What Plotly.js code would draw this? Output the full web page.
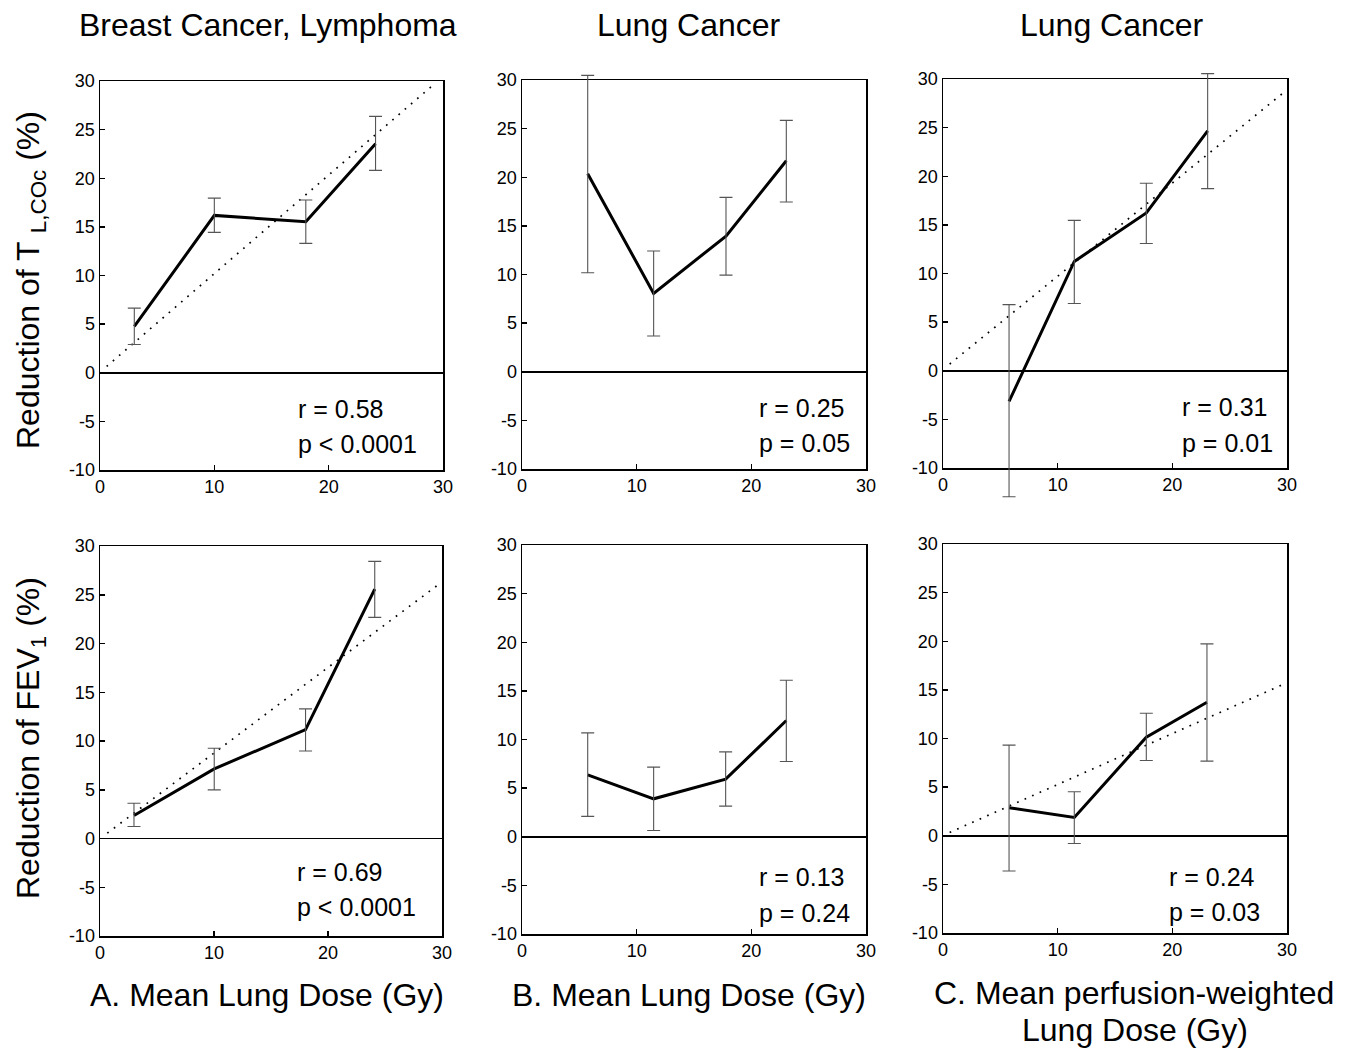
<!DOCTYPE html>
<html>
<head>
<meta charset="utf-8">
<script src="https://cdn.plot.ly/plotly-3.0.1.min.js"></script>
<style>html,body{margin:0;padding:0;background:#fff;}#chart{width:1350px;height:1051px;}</style>
</head>
<body>
<div id="chart"></div>
<script>
// ---- Data ----
// Top row: reduction of T L,COc (%)
const doseA_T = [3.0, 10.0, 18.0, 24.1];
const redA_T = [4.77, 16.18, 15.53, 23.55];
const errUpA_T = [1.88, 1.78, 2.23, 2.81];
const errDnA_T = [1.86, 1.75, 2.23, 2.74];
const fitXA_T = [0.58, 29.1];
const fitYA_T = [0.65, 29.55];

const doseB_T = [5.73, 11.48, 17.79, 23.05];
const redB_T = [20.36, 8.06, 13.95, 21.7];
const errUpB_T = [10.12, 4.35, 3.98, 4.15];
const errDnB_T = [10.18, 4.39, 4.01, 4.25];

const doseC_T = [5.76, 11.45, 17.73, 23.08];
const redC_T = [-3.16, 11.24, 16.22, 24.67];
const errUpC_T = [9.96, 4.22, 3.06, 5.88];
const errDnC_T = [9.79, 4.33, 3.13, 5.94];
const fitXC_T = [0.58, 29.7];
const fitYC_T = [0.69, 28.6];

// Bottom row: reduction of FEV1 (%)
const doseA_F = [2.98, 10.02, 18.03, 24.1];
const redA_F = [2.36, 7.14, 11.17, 25.58];
const errUpA_F = [1.26, 2.12, 2.12, 2.84];
const errDnA_F = [1.13, 2.15, 2.19, 2.9];
const fitXA_F = [0.64, 29.94];
const fitYA_F = [0.55, 26.27];

const doseB_F = [5.73, 11.48, 17.76, 23.05];
const redB_F = [6.37, 3.9, 5.92, 11.95];
const errUpB_F = [4.31, 3.26, 2.81, 4.15];
const errDnB_F = [4.28, 3.25, 2.77, 4.21];

const doseC_F = [5.76, 11.45, 17.73, 23.02];
const redC_F = [2.88, 1.88, 10.14, 13.73];
const errUpC_F = [6.44, 2.64, 2.46, 6.0];
const errDnC_F = [6.51, 2.67, 2.4, 6.06];
const fitXC_F = [0.58, 29.7];
const fitYC_F = [0.34, 15.58];

const stats = [
  ["r = 0.58", "p < 0.0001"], ["r = 0.25", "p = 0.05"], ["r = 0.31", "p = 0.01"],
  ["r = 0.69", "p < 0.0001"], ["r = 0.13", "p = 0.24"], ["r = 0.24", "p = 0.03"]
];
const colTitles = ["Breast Cancer, Lymphoma", "Lung Cancer", "Lung Cancer"];
const xLabels = ["A. Mean Lung Dose (Gy)", "B. Mean Lung Dose (Gy)", "C. Mean perfusion-weighted", "Lung Dose (Gy)"];
const yLabels = ["Reduction of T <sub>L,COc</sub> (%)", "Reduction of FEV<sub>1</sub> (%)"];
const xTickVals = [0, 10, 20, 30];
const xTickText = ["0", "10", "20", "30"];
const yTickVals = [-10, -5, 0, 5, 10, 15, 20, 25, 30];
const yTickText = ["-10", "-5", "0", "5", "10", "15", "20", "25", "30"];

// ---- Build ----
const W = 1350, H = 1051;
const FONT = '"Liberation Sans", Arial, Helvetica, sans-serif';
const panels = [
  {x: doseA_T, y: redA_T, up: errUpA_T, dn: errDnA_T, fx: fitXA_T, fy: fitYA_T},
  {x: doseB_T, y: redB_T, up: errUpB_T, dn: errDnB_T},
  {x: doseC_T, y: redC_T, up: errUpC_T, dn: errDnC_T, fx: fitXC_T, fy: fitYC_T},
  {x: doseA_F, y: redA_F, up: errUpA_F, dn: errDnA_F, fx: fitXA_F, fy: fitYA_F},
  {x: doseB_F, y: redB_F, up: errUpB_F, dn: errDnB_F},
  {x: doseC_F, y: redC_F, up: errUpC_F, dn: errDnC_F, fx: fitXC_F, fy: fitYC_F}
];
// pixel boxes [left, right, top, bottom]
const boxes = [
  [100, 443, 81, 470], [522, 866, 80, 469], [943, 1287, 79, 468],
  [100, 442, 546, 936], [522, 866, 545, 934], [943, 1287, 544, 933]
];
// stat text positions (data coords): [x, y_r, y_p]
const statPos = [
  [17.1, -3.7, -7.3], [20.5, -3.7, -7.3], [20.7, -3.7, -7.4],
  [17.1, -3.4, -7.0], [20.5, -4.1, -7.8], [19.5, -4.2, -7.8]
];
const Y0 = -10, Y1 = 30, EXT = 4; // extension for unclipped error bars

const traces = [];
const layout = {
  width: W, height: H,
  margin: {l: 0, r: 0, t: 0, b: 0},
  paper_bgcolor: '#fff', plot_bgcolor: 'rgba(0,0,0,0)',
  showlegend: false,
  font: {family: FONT, color: '#000', size: 18},
  annotations: []
};

panels.forEach((p, i) => {
  const n = i + 1;
  const xa = n === 1 ? 'x' : 'x' + n;
  const ya = n === 1 ? 'y' : 'y' + n;
  const yeN = n + 6;
  const ye = 'y' + yeN;
  const b = boxes[i];
  const ppu = (b[3] - b[2]) / (Y1 - Y0);
  const axBase = {
    showline: true, mirror: true, linecolor: '#000', linewidth: 1.5,
    ticks: 'inside', ticklen: 5, tickwidth: 1.5, tickcolor: '#000',
    showgrid: false, fixedrange: true,
    tickfont: {family: FONT, size: 18, color: '#000'}
  };
  layout['xaxis' + (n === 1 ? '' : n)] = Object.assign({}, axBase, {
    domain: [b[0] / W, b[1] / W], range: [0, 30], anchor: ya,
    tickmode: 'array', tickvals: xTickVals, ticktext: xTickText, zeroline: false
  });
  layout['yaxis' + (n === 1 ? '' : n)] = Object.assign({}, axBase, {
    domain: [1 - b[3] / H, 1 - b[2] / H], range: [Y0, Y1], anchor: xa,
    tickmode: 'array', tickvals: yTickVals, ticktext: yTickText,
    zeroline: true, zerolinecolor: '#000', zerolinewidth: 1.5
  });
  // invisible extended axis covering the same scale, so error bars are not clipped
  layout['yaxis' + yeN] = {
    visible: false, fixedrange: true, anchor: xa, showgrid: false, zeroline: false,
    domain: [1 - (b[3] + EXT * ppu) / H, 1 - (b[2] - EXT * ppu) / H],
    range: [Y0 - EXT, Y1 + EXT]
  };
  if (p.fx) {
    traces.push({x: p.fx, y: p.fy, xaxis: xa, yaxis: ya, mode: 'lines', type: 'scatter',
      line: {color: '#000', width: 1.7, dash: '1.7px,6.5px'}, hoverinfo: 'skip'});
  }
  traces.push({x: p.x, y: p.y, xaxis: xa, yaxis: ye, mode: 'markers', type: 'scatter',
    marker: {size: 1, opacity: 0},
    error_y: {type: 'data', symmetric: false, array: p.up, arrayminus: p.dn,
      color: '#555', thickness: 1.1, width: 6.5}, hoverinfo: 'skip'});
  traces.push({x: p.x, y: p.y, xaxis: xa, yaxis: ya, mode: 'lines', type: 'scatter',
    line: {color: '#000', width: 3}, hoverinfo: 'skip'});
  const sp = statPos[i];
  layout.annotations.push({xref: xa, yref: ya, x: sp[0], y: sp[1], text: stats[i][0],
    showarrow: false, xanchor: 'left', yanchor: 'middle', font: {family: FONT, size: 25, color: '#000'}});
  layout.annotations.push({xref: xa, yref: ya, x: sp[0], y: sp[2], text: stats[i][1],
    showarrow: false, xanchor: 'left', yanchor: 'middle', font: {family: FONT, size: 25, color: '#000'}});
});

const big = {family: FONT, size: 32, color: '#000'};
// column titles
[268, 689, 1112].forEach((cx, i) => {
  layout.annotations.push({xref: 'paper', yref: 'paper', x: cx / W, y: 1 - 25 / H,
    text: colTitles[i], showarrow: false, xanchor: 'center', yanchor: 'middle', font: big});
});
// bottom x labels
[[267, 995], [689, 995], [1134, 993], [1135, 1030]].forEach((pt, i) => {
  layout.annotations.push({xref: 'paper', yref: 'paper', x: pt[0] / W, y: 1 - pt[1] / H,
    text: xLabels[i], showarrow: false, xanchor: 'center', yanchor: 'middle', font: big});
});
// y labels
[[30, 280], [30, 738]].forEach((pt, i) => {
  layout.annotations.push({xref: 'paper', yref: 'paper', x: pt[0] / W, y: 1 - pt[1] / H,
    text: yLabels[i], showarrow: false, textangle: -90, xanchor: 'center', yanchor: 'middle', font: big});
});

Plotly.newPlot('chart', traces, layout, {staticPlot: true, displayModeBar: false});
</script>
</body>
</html>
